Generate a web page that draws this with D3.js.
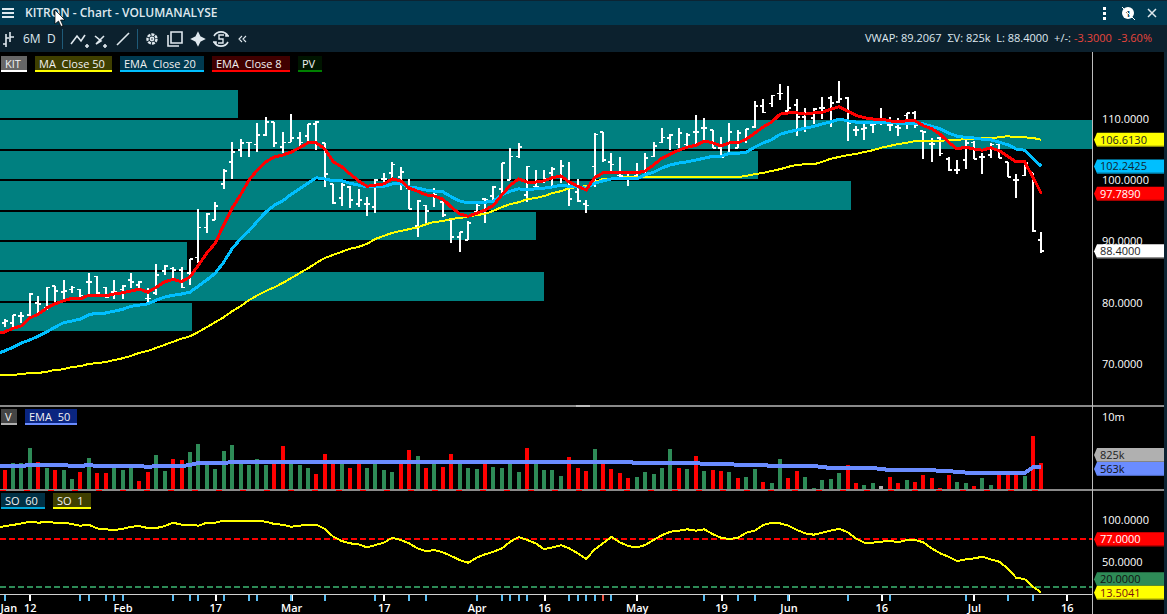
<!DOCTYPE html>
<html>
<head>
<meta charset="utf-8">
<title>KITRON - Chart - VOLUMANALYSE</title>
<script src="https://d3js.org/d3.v7.min.js"></script>
<style>
  html, body { margin: 0; padding: 0; background: #000; overflow: hidden; }
  svg { display: block; font-family: "Open Sans", "Liberation Sans", sans-serif; }
  text { white-space: pre; }
  .axis path.domain { display: none; }
  .axis line { shape-rendering: crispEdges; }
</style>
</head>
<body>
<div id="chart"></div>
<script>
// daily bars
const highs = [77.3,78.0,78.5,81.6,81.1,82.5,82.7,83.7,82.7,82.2,84.8,84.3,82.5,83.7,82.9,84.8,83.5,82.4,86.3,86.1,85.8,85.8,87.1,95.3,94.6,96.4,
  101.8,106.2,106.7,106.2,109.3,110.3,109.5,107.9,110.8,107.9,109.2,109.7,106.1,99.4,99.5,99.0,98.6,97.3,100.2,101.2,103.0,102.2,100.2,96.8,95.9,98.7,96.4,93.7,91.5,93.3,96.1,97.1,
  99.0,102.8,105.3,106.1,102.3,101.7,101.7,102.2,103.3,103.0,100.2,96.8,107.7,107.9,104.4,103.8,101.2,102.8,104.4,106.2,108.5,107.5,108.5,107.7,110.6,110.2,108.2,107.1,109.3,108.2,108.4,
  112.9,113.3,113.9,115.7,115.4,113.3,111.8,111.8,113.6,113.8,116.2,113.6,108.9,109.2,109.2,111.8,110.3,110.2,111.0,111.3,108.0,106.9,107.0,103.8,103.3,106.6,106.4,104.4,106.1,105.9,103.0,101.0,103.0,101.2,91.5];
const lows = [76.0,76.0,76.7,77.8,78.3,78.8,80.1,80.3,81.6,80.6,81.2,81.2,80.7,80.6,80.6,82.4,82.1,79.9,81.2,84.5,84.0,82.4,82.9,86.5,91.4,93.5,
  98.6,100.2,103.8,103.8,104.6,107.2,105.4,104.4,106.2,105.3,106.2,104.9,98.9,96.1,95.8,95.5,95.6,94.1,94.6,99.5,100.2,98.4,95.3,90.7,92.8,95.6,94.0,89.7,88.3,90.2,94.8,93.0,
  96.6,97.9,100.0,103.6,96.4,98.9,99.5,98.9,99.5,95.8,96.4,94.6,98.9,103.0,101.2,100.4,99.0,100.4,100.4,103.8,106.1,104.9,105.3,105.6,105.7,106.6,105.3,103.6,104.6,105.3,106.1,
  108.5,111.0,111.9,113.1,111.3,107.2,107.9,109.2,110.0,108.7,112.6,106.4,107.2,106.6,107.7,109.0,108.0,107.2,108.4,108.5,103.5,103.0,103.9,101.5,101.0,101.8,103.5,101.0,103.6,103.6,100.5,97.1,100.7,91.5,88.1];
const opens = [76.7,76.7,77.8,78.0,79.9,79.1,82.7,81.7,82.1,82.1,83.4,84.3,82.5,81.7,82.1,83.7,82.9,80.7,81.6,85.2,85.6,85.3,84.8,87.4,92.3,93.5,
  99.4,103.0,104.9,106.2,105.8,107.4,109.5,105.4,106.2,106.9,107.2,109.2,106.1,99.4,97.1,98.9,96.1,96.1,95.6,100.2,101.2,100.5,98.7,92.5,95.9,97.3,96.4,93.5,90.7,90.2,94.8,96.9,
  97.4,98.6,100.0,103.9,97.6,99.0,99.9,101.2,100.5,100.0,98.1,96.1,102.2,107.9,103.0,100.8,100.5,100.7,100.8,103.9,106.2,106.9,105.8,105.8,107.9,108.5,108.2,105.3,106.1,105.3,106.6,
  108.7,112.1,112.5,114.2,111.3,112.3,110.3,110.2,111.8,113.4,112.8,113.4,108.2,108.4,109.0,109.3,109.0,108.7,110.6,111.0,108.0,105.9,106.9,103.5,101.7,103.3,106.2,103.8,104.1,105.8,103.0,100.0,100.8,101.2,90.2];
const closes = [77.0,78.0,77.8,81.4,79.8,82.5,81.9,81.9,82.5,81.2,83.4,81.6,80.9,81.7,82.7,83.4,83.4,80.7,84.5,86.0,85.3,82.5,87.1,92.3,94.5,95.8,
  101.5,104.6,106.1,106.2,107.4,109.5,106.1,106.2,106.9,106.2,109.2,109.5,101.0,96.3,99.2,96.8,96.8,96.1,100.0,100.2,102.6,101.3,95.3,96.6,95.0,97.6,94.3,90.7,91.5,93.0,95.9,96.8,
  98.9,102.8,103.9,105.4,102.2,99.0,100.2,101.8,102.3,96.9,96.6,95.9,107.5,103.3,102.6,100.7,100.5,100.5,103.6,105.6,107.0,107.4,107.7,107.4,107.9,108.5,105.3,103.8,107.9,107.7,108.4,
  112.1,111.1,113.8,114.2,111.8,110.3,111.0,111.6,111.8,112.6,113.3,109.3,108.2,108.5,109.2,109.5,109.0,108.5,111.0,109.0,107.9,105.9,104.4,101.7,101.7,106.1,103.5,103.8,105.8,103.6,100.5,100.0,102.8,91.7,88.4];

// moving averages, each starts one bar before the first visible bar
const ema8 = [74.9,75.2,75.8,76.2,77.5,78.1,79.1,79.8,80.3,80.7,80.6,81.2,81.2,81.1,81.4,81.6,81.9,82.2,81.7,82.5,83.4,83.8,83.4,84.2,86.1,88.1,89.7,92.7,95.4,97.6,100.0,101.7,103.0,103.8,104.1,104.6,105.3,106.1,106.1,105.1,103.0,102.2,101.0,99.9,99.0,99.2,99.4,100.2,99.9,98.7,98.2,97.6,97.4,96.9,95.6,94.5,94.1,94.6,95.1,95.9,97.6,99.2,100.2,99.7,99.7,99.9,100.4,100.7,99.7,99.0,98.4,100.4,101.2,101.3,101.3,101.2,101.2,101.5,102.5,103.6,104.3,104.9,105.4,105.7,106.4,106.1,105.6,106.1,106.1,106.7,107.7,108.7,109.5,110.8,111.0,111.0,110.8,111.0,111.1,111.6,112.0,111.3,110.6,110.2,110.0,110.0,109.7,109.5,109.7,109.7,108.9,108.4,107.5,106.2,105.1,105.4,105.1,104.9,105.3,104.8,103.9,103.0,103.0,100.5,97.789];
const ema20 = [71.6,72.1,72.7,73.4,73.9,74.5,75.2,76.0,76.7,77.0,77.3,78.0,78.3,78.3,78.6,78.9,79.4,79.6,79.8,80.4,80.9,81.2,81.4,81.7,82.7,83.7,84.8,86.6,88.8,90.4,91.7,93.3,94.8,95.9,96.6,97.7,98.6,99.5,100.4,100.2,99.9,99.9,99.5,99.2,98.9,99.0,99.0,99.4,99.4,98.9,98.7,98.4,98.2,98.1,97.3,96.6,96.3,96.4,96.4,96.6,97.6,98.2,98.6,98.4,98.6,98.7,98.9,99.2,99.0,98.9,98.7,99.5,99.9,100.2,100.2,100.2,100.2,100.9,101.3,102.0,102.5,102.8,103.0,103.3,103.6,103.9,103.9,104.4,104.4,104.6,105.4,106.1,106.6,107.5,107.9,108.2,108.5,108.8,109.2,109.5,110.0,109.7,109.5,109.5,109.5,109.5,109.5,109.3,109.3,109.3,109.2,108.8,108.4,107.7,107.2,107.0,106.9,106.7,106.6,106.2,105.8,105.1,104.9,103.6,102.2425];
const ma50 = [68.2,68.2,68.2,68.3,68.5,68.5,68.7,69.0,69.1,69.5,69.6,70.0,70.1,70.3,70.6,70.9,71.3,71.8,72.1,72.6,73.1,73.6,74.1,74.5,75.2,76.0,76.8,77.6,78.6,79.4,80.4,81.2,81.9,82.5,83.2,84.0,84.8,85.6,86.5,87.3,87.8,88.3,88.8,89.1,89.6,90.4,90.9,91.4,91.7,92.0,92.3,92.8,93.2,93.3,93.7,93.8,94.1,94.3,94.5,95.0,95.6,96.1,96.4,96.9,97.1,97.4,97.9,98.2,98.7,98.9,99.0,99.7,100.2,100.2,100.4,100.5,100.5,100.5,100.5,100.5,100.5,100.5,100.5,100.5,100.5,100.5,100.5,100.5,100.5,100.7,101.0,101.2,101.5,101.8,102.2,102.5,102.6,102.6,103.0,103.5,103.8,104.1,104.3,104.6,104.9,105.3,105.6,105.9,106.1,106.4,106.4,106.4,106.4,106.6,106.6,106.7,106.7,106.9,106.9,107.0,107.2,107.0,107.0,106.9,106.613];

// volume in thousands, and up/down/unchanged per bar
const volumes = [393,832,832,2510,911,498,393,393,88,302,1272,262,262,557,393,557,53,302,1591,346,1175,1083,1955,3152,686,444,2086,2983,757,686,1175,686,757,2820,911,686,498,225,1708,911,1083,498,1083,498,757,393,302,
  832,2222,1480,498,1083,557,1708,911,498,444,832,557,498,832,302,2510,757,393,393,161,1374,498,346,2364,832,444,262,110,134,302,225,498,2364,498,444,1480,346,393,346,302,110,134,444,40,28,1175,110,
  346,134,1,69,88,262,686,28,12,28,7,134,28,69,40,191,110,1,191,40,28,7,110,12,225,225,225,161,4706,825];
const volSides = ("rgggrgrggrgrrgggrrggrrggggggggggrrgggrrrgrrgggg" + "rrgrgrrgggrggggrggggrrrgrrrrgggggrgrgrrgrggrggr" + "rgggggrrggnrrgrrrrrggrggrrrgrr").split("");
const volEma = [620,620,620,620,686,686,686,686,686,620,620,686,620,620,620,620,620,620,557,620,620,620,620,686,832,832,832,832,911,911,911,
  911,911,911,911,911,911,911,911,911,911,911,911,911,911,911,911,911,911,911,911,911,911,911,911,911,911,911,911,911,911,911,911,911,911,911,911,911,911,911,911,911,911,911,911,911,
  832,832,832,832,832,832,832,832,757,757,757,757,686,686,686,686,620,620,620,620,620,620,557,498,498,498,498,498,498,444,393,393,393,393,393,393,346,346,302,280,262,262,262,262,262,262,262,540,563];

// stochastic
const so1 = [90.2,92.8,94,96,98,96.8,97.6,96.8,96.8,95.2,93.2,94.4,90,88.9,88.1,89.3,92,92.8,90.4,90.4,92.8,96.8,94.4,94.4,93.2,96.8,96.8,99.2,99.2,99.2,99.2,99.2,98,95.2,94.4,92,93.2,94.4,94.4,89.3,80.1,75,72.2,71,67.4,70.2,73,78.9,76.2,72.2,66.2,63,64.2,61.5,57.1,52.3,49.1,55.1,59.1,62.3,66.2,74.2,79.7,76.2,72.2,65.4,67.4,70,
  66.2,60.3,53.5,65,72.2,80.1,73.4,69,67.4,70.2,76.2,82.1,86.1,87.3,88.9,87.3,88.9,83.3,78.9,77.3,78.9,84.9,87.3,94,96.8,96,93.2,88.1,84.1,82.5,84.9,87.3,89.6,85.7,78.1,73,73,74.2,75.4,73.4,76.2,76.2,73.4,66.2,60.3,56.3,51.1,53.1,54.3,56.3,53.1,50.3,42.4,31.3,29.7,20.6,13.5041];
const soUpper = 77, soLower = 20;

// price volume zones: top and bottom price, last bar reached
const pvTop = [114.7,109.8,104.8,99.9,94.8,89.9,85.0,79.9];
const pvBottom = [110.2,105.1,100.2,95.1,90.2,85.3,80.3,75.4];
const pvEnd = [27.7,129,89.4,100.4,63,21.7,64,22.2];

// time axis, ticks sit on bar numbers
const majorBars = [0,3,14,25,34,45,56,64,75,85,93,104,115,126];
const majorLabels = ["Jan","12","Feb","17","Mar","17","Apr","16","May","19","Jun","16","Jul","16"];
const eventBars = [0,9,10,12,13,14,20,22,23,26,29,30,34,38,44,48,50,56,59,60,61,62,67,68,69,70,72,83,87,89,93,100,105,114,119,122];
const alertBars = [71];

const priceTicks = [110,100,90,80,70];
const soTicks = [100,50];

const width = 1167, height = 614;
const plotRight = 1092;
const fmt = d3.format(".4f");

const svg = d3.select("#chart").append("svg").attr("width", width).attr("height", height);
svg.append("rect").attr("width", width).attr("height", height).attr("fill", "#000");

const x = d3.scaleLinear().domain([0, 123]).range([4.5, 1041.4]);
const yPrice = d3.scaleLinear().domain([70, 110]).range([363.8, 119]);
const yVol = d3.scalePow().exponent(0.4).domain([0, 10000]).range([490, 417]);
const ySo = d3.scaleLinear().domain([0, 100]).range([604, 520]);

// ---- PV zones
svg.append("g").attr("fill", "#008080").attr("shape-rendering", "crispEdges")
  .selectAll("rect").data(pvTop).join("rect")
  .attr("x", 0)
  .attr("y", d => yPrice(d))
  .attr("width", (d, i) => x(pvEnd[i]))
  .attr("height", (d, i) => yPrice(pvBottom[i]) - yPrice(d));

// ---- price bars
const bars = svg.append("g").attr("stroke", "#fff").attr("shape-rendering", "crispEdges");
bars.selectAll("line.hl").data(highs).join("line").attr("class", "hl")
  .attr("stroke-width", 2)
  .attr("x1", (d, i) => x(i)).attr("x2", (d, i) => x(i))
  .attr("y1", d => yPrice(d)).attr("y2", (d, i) => yPrice(lows[i]));
bars.selectAll("line.op").data(opens).join("line").attr("class", "op")
  .attr("stroke-width", 1.5)
  .attr("x1", (d, i) => x(i) - 3).attr("x2", (d, i) => x(i))
  .attr("y1", d => yPrice(d)).attr("y2", d => yPrice(d));
bars.selectAll("line.cl").data(closes).join("line").attr("class", "cl")
  .attr("stroke-width", 1.5)
  .attr("x1", (d, i) => x(i)).attr("x2", (d, i) => x(i) + 3)
  .attr("y1", d => yPrice(d)).attr("y2", d => yPrice(d));

const priceLine = d3.line().x((d, i) => x(i - 1)).y(d => yPrice(d));
function drawPriceLine(values, color, w) {
  svg.append("path").attr("d", priceLine(values))
    .attr("fill", "none").attr("stroke", color).attr("stroke-width", w)
    .attr("shape-rendering", "crispEdges");
}
drawPriceLine(ma50, "#ffff00", 2);
drawPriceLine(ema20, "#00bfff", 3);
drawPriceLine(ema8, "#ff0000", 3);

// ---- volume pane
const volColor = { r: "#ff0000", g: "#2e8b57", n: "#b0b0b0" };
svg.append("g").attr("shape-rendering", "crispEdges")
  .selectAll("rect").data(volumes).join("rect")
  .attr("x", (d, i) => Math.round(x(i)) - 2)
  .attr("y", d => yVol(d))
  .attr("width", 4)
  .attr("height", d => 490 - yVol(d))
  .attr("fill", (d, i) => volColor[volSides[i]]);
svg.append("path")
  .attr("d", d3.line().x((d, i) => x(i - 1)).y(d => yVol(d))(volEma))
  .attr("fill", "none").attr("stroke", "#6a8cff").attr("stroke-width", 4)
  .attr("shape-rendering", "crispEdges");

// ---- stochastic pane
function dashed(value, color) {
  svg.append("line").attr("x1", 0).attr("x2", plotRight)
    .attr("y1", ySo(value)).attr("y2", ySo(value))
    .attr("stroke", color).attr("stroke-width", 2).attr("stroke-dasharray", "6,3")
    .attr("shape-rendering", "crispEdges");
}
dashed(soUpper, "#ff0000");
dashed(soLower, "#2e8b57");
svg.append("path")
  .attr("d", d3.line().x((d, i) => x(i - 1)).y(d => ySo(d))(so1))
  .attr("fill", "none").attr("stroke", "#ffff00").attr("stroke-width", 2)
  .attr("shape-rendering", "crispEdges");

// ---- pane separators
const sep = svg.append("g").attr("shape-rendering", "crispEdges");
sep.append("rect").attr("x", 0).attr("y", 405).attr("width", 1164).attr("height", 2).attr("fill", "#8a8a8a");
sep.append("rect").attr("x", 0).attr("y", 489).attr("width", 1164).attr("height", 2).attr("fill", "#8a8a8a");
sep.append("line").attr("x1", 0).attr("x2", 1045).attr("y1", 490).attr("y2", 490)
  .attr("stroke", "#ff0000").attr("stroke-dasharray", "6,18");
sep.append("rect").attr("x", 576).attr("y", 405).attr("width", 14).attr("height", 2).attr("fill", "#ddd").attr("opacity", 0.6);
sep.append("rect").attr("x", plotRight).attr("y", 52).attr("width", 1).attr("height", 562).attr("fill", "#bdbdbd");
sep.append("rect").attr("x", 0).attr("y", 594).attr("width", plotRight).attr("height", 1).attr("fill", "#d0d0d0");
sep.append("rect").attr("x", 1164).attr("y", 52).attr("width", 3).attr("height", 562).attr("fill", "#0c2433");

// ---- right axes
function styleRightAxis(g) {
  g.selectAll("line").remove();
  g.selectAll("text").attr("fill", "#fff").attr("font-size", 11).attr("font-family", '"Open Sans", sans-serif');
}
svg.append("g").attr("class", "axis").attr("transform", `translate(${plotRight + 7},0)`)
  .call(d3.axisRight(yPrice).tickValues(priceTicks).tickFormat(fmt).tickSize(0))
  .call(styleRightAxis);
svg.append("g").attr("class", "axis").attr("transform", `translate(${plotRight + 7},0)`)
  .call(d3.axisRight(yVol).tickValues([10000]).tickFormat(() => "10m").tickSize(0))
  .call(styleRightAxis);
svg.append("g").attr("class", "axis").attr("transform", `translate(${plotRight + 7},0)`)
  .call(d3.axisRight(ySo).tickValues(soTicks).tickFormat(fmt).tickSize(0))
  .call(styleRightAxis);

// value tags on the right
function tag(yPos, label, fill, textColor, edge) {
  const g = svg.append("g").attr("transform", `translate(0,${yPos})`);
  g.append("path").attr("d", "M1094,0 L1097,-7 H1164 V7 H1097 Z").attr("fill", fill);
  g.append("rect").attr("x", 1097).attr("y", 6).attr("width", 67).attr("height", 1).attr("fill", edge);
  g.append("text").attr("x", 1100).attr("y", 4).attr("font-size", 11).attr("fill", textColor).text(label);
}
const last = a => a[a.length - 1];
tag(yPrice(last(ma50)), fmt(last(ma50)), "#ffff00", "#222", "#77770a");
tag(yPrice(last(ema20)), fmt(last(ema20)), "#00bfff", "#102530", "#047aa3");
tag(yPrice(last(ema8)), fmt(last(ema8)), "#ff0000", "#fff", "#9c0000");
tag(yPrice(last(closes)), fmt(last(closes)), "#fff", "#222", "#777");
tag(yVol(last(volumes)) - 8, "825k", "#b0b0b0", "#222", "#808080");
tag(yVol(last(volEma)) + 2, "563k", "#6a8cff", "#111", "#4a63b5");
tag(ySo(soUpper), fmt(soUpper), "#ff0000", "#fff", "#9c0000");
tag(ySo(soLower) - 8, fmt(soLower), "#2e8b57", "#111", "#1d5c39");
tag(ySo(last(so1)), fmt(last(so1)), "#ffff00", "#7a1010", "#77770a");

// ---- time axis
const timeAxis = svg.append("g").attr("class", "axis").attr("transform", "translate(0,595)")
  .call(d3.axisBottom(x).tickValues(majorBars).tickFormat((d, i) => majorLabels[i]).tickSize(6).tickPadding(3));
timeAxis.selectAll("line").attr("stroke", "#fff").attr("stroke-width", 2);
timeAxis.selectAll("text").attr("fill", "#fff").attr("font-size", 11).attr("font-weight", 600)
  .attr("font-family", '"Open Sans", sans-serif');
timeAxis.selectAll("g.tick").filter(d => d === 0).select("line").remove();
timeAxis.selectAll("g.tick").filter(d => d === 0).select("text").attr("text-anchor", "start").attr("dx", -4.5);
svg.append("g").attr("shape-rendering", "crispEdges")
  .selectAll("rect").data(eventBars).join("rect")
  .attr("x", d => Math.round(x(d)) - 1).attr("y", 595).attr("width", 2).attr("height", 6).attr("fill", "#5bbcf0");
svg.append("g").attr("shape-rendering", "crispEdges")
  .selectAll("rect").data(alertBars).join("rect")
  .attr("x", d => Math.round(x(d)) - 1).attr("y", 595).attr("width", 2).attr("height", 6).attr("fill", "#f05a4a");

// ---- legends
function chip(x0, w, y0, label, bg, line) {
  svg.append("rect").attr("x", x0).attr("y", y0).attr("width", w).attr("height", 14).attr("fill", bg);
  svg.append("rect").attr("x", x0).attr("y", y0 + 14).attr("width", w).attr("height", 2).attr("fill", line);
  svg.append("text").attr("x", x0 + 4).attr("y", y0 + 12).attr("font-size", 11).attr("fill", "#f2f2f2").text(label);
}
chip(1, 26, 56, "KIT", "#666", "#fff");
chip(35, 77, 56, "MA  Close 50", "#3f3f00", "#ffff00");
chip(120, 84, 56, "EMA  Close 20", "#003a50", "#00bfff");
chip(212, 78, 56, "EMA  Close 8", "#400000", "#ff0000");
chip(298, 24, 56, "PV", "#001500", "#008000");
chip(1, 16, 409, "V", "#444", "#b0b0b0");
chip(25, 52, 409, "EMA  50", "#0a2580", "#6a8cff");
chip(1, 44, 493, "SO  60", "#003045", "#00a5d8");
chip(53, 38, 493, "SO  1", "#3f3f00", "#ffff00");

// ---- title bar and tool bar
svg.append("rect").attr("width", width).attr("height", 25).attr("fill", "#003a52");
svg.append("rect").attr("width", width).attr("height", 1).attr("fill", "#0c2433");
svg.append("rect").attr("y", 25).attr("width", width).attr("height", 27).attr("fill", "#0c212e");

const ink = "#dfe8ee";
[9, 13, 17].forEach(yy => svg.append("rect").attr("x", 2).attr("y", yy - 1).attr("width", 12).attr("height", 2).attr("fill", ink));
svg.append("text").attr("x", 25).attr("y", 17).attr("font-size", 12).attr("font-weight", 600).attr("fill", ink)
  .text("KITRON - Chart - VOLUMANALYSE");

// window buttons
[8, 13, 18].forEach(yy => svg.append("rect").attr("x", 1103).attr("y", yy - 1).attr("width", 3).attr("height", 3).attr("fill", "#fff"));
svg.append("circle").attr("cx", 1128).attr("cy", 13).attr("r", 6).attr("fill", "#fff");
svg.append("text").attr("x", 1125.5).attr("y", 17).attr("font-size", 9).attr("font-weight", 700).attr("fill", "#003a52").text("1");
svg.append("path").attr("d", "M1122,7 L1135,20").attr("stroke", "#fff").attr("stroke-width", 1);
svg.append("path").attr("d", "M1148,9 L1156,17 M1156,9 L1148,17").attr("stroke", "#dfe8ee").attr("stroke-width", 1.5);

// toolbar icons
const icons = svg.append("g").attr("fill", "none").attr("stroke", ink).attr("stroke-width", 1.6);
icons.append("path").attr("d", "M3,44 H6 M6,34 V47 M6,38 H9 M10,32 V42 M10,37 H14");
icons.append("path").attr("d", "M71,44 L77,36 L81,41 L85,35 M87,44 V48 M85,46 H89");
icons.append("path").attr("d", "M95,36 L101,41 L96,44 L104,36 M105,44 V48 M103,46 H107");
icons.append("path").attr("d", "M117,45 L129,33");
icons.append("circle").attr("cx", 152).attr("cy", 39).attr("r", 4.5).attr("stroke-width", 2.4).attr("stroke-dasharray", "3,1");
icons.append("circle").attr("cx", 152).attr("cy", 39).attr("r", 1.6);
icons.append("path").attr("d", "M168,35 V46 H179 M171,32 H182 V43 H171 Z");
icons.append("path").attr("d", "M198,33 L200,37 L204,39 L200,41 L198,45 L196,41 L192,39 L196,37 Z").attr("fill", ink);
icons.append("path").attr("d", "M214,36 A8,8 0 0,1 228,36 M228,42 A8,8 0 0,1 214,42 M226,33 V36 H229 M216,45 V42 H213");
icons.append("path").attr("d", "M224,35 H219 V39 H223 V43 H218").attr("stroke-width", 1.4);
icons.append("path").attr("d", "M242,36 L239,39 L242,42 M246,36 L243,39 L246,42").attr("stroke-width", 1.1);
svg.append("rect").attr("x", 62).attr("y", 29).attr("width", 1).attr("height", 20).attr("fill", "#1f5a78");
svg.append("rect").attr("x", 137).attr("y", 29).attr("width", 1).attr("height", 20).attr("fill", "#1f5a78");
svg.append("text").attr("x", 23).attr("y", 43).attr("font-size", 12).attr("fill", ink).text("6M");
svg.append("text").attr("x", 47).attr("y", 43).attr("font-size", 12).attr("fill", ink).text("D");

// quote line
svg.append("text").attr("x", 865).attr("y", 42).attr("font-size", 11).attr("fill", ink).text("VWAP: 89.2067  ΣV: 825k  L: 88.4000  +/-:");
svg.append("text").attr("x", 1074).attr("y", 42).attr("font-size", 11).attr("fill", "#e8453c").text("-3.3000  -3.60%");

// mouse pointer
svg.append("path").attr("d", "M55,10 V24 L58.5,21 L61,26.5 L63,25.5 L60.5,20 L65,20 Z")
  .attr("fill", "#fff").attr("stroke", "#000").attr("stroke-width", 0.7);
</script>
</body>
</html>
